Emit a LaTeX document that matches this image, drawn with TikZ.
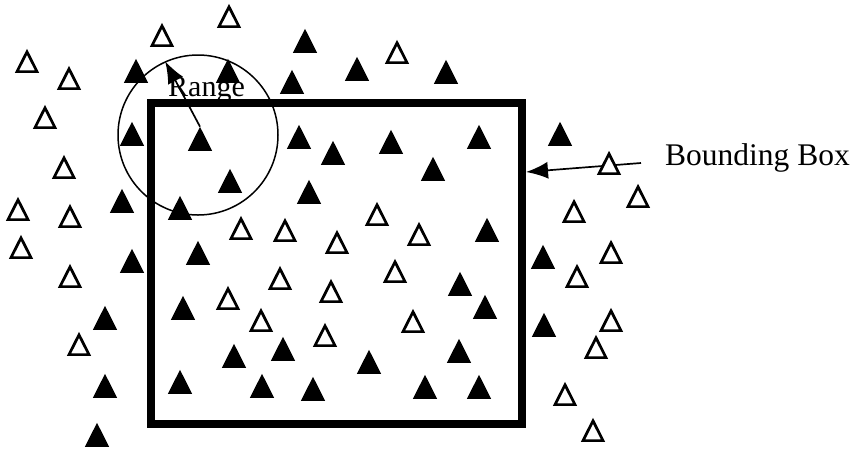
\documentclass[tikz,border=0pt]{standalone}
\usepackage{fontspec}
\setmainfont{Liberation Serif}
\usepackage{tikz}
\usetikzlibrary{arrows.meta,backgrounds,shapes.geometric}
\definecolor{SNInk}{HTML}{000000}

\begin{document}
\begin{tikzpicture}[
  x=1pt,
  y=-1pt,
  hollow/.style={
    regular polygon,
    regular polygon sides=3,
    yshift=-3pt,
    yscale=1.15,
    transform shape,
    draw=SNInk,
    fill=white,
    line width=2.7pt,
    minimum size=23pt,
    inner sep=0pt
  },
  solid/.style={
    hollow,
    fill=SNInk
  },
  frame/.style={
    draw=SNInk,
    line width=8pt,
    minimum width=371pt,
    minimum height=321pt,
    inner sep=0pt
  },
  reach/.style={
    circle,
    draw=SNInk,
    line width=1.5pt,
    minimum size=160pt,
    inner sep=0pt
  },
  tag/.style={
    inner sep=0pt,
    text=SNInk,
    font=\fontsize{30}{34}\selectfont
  },
  pointer/.style={line width=1.7pt, -{Latex[length=22pt,width=17pt]}},
]
\useasboundingbox (0,0) rectangle (856,448);

\node[frame] (bbox) at (336.5,263.5) {};
\node[reach] (range) at (198,135) {};
\node[tag,anchor=base west] (range-label) at (168,96) {Range};
\node[tag,anchor=base west,font=\fontsize{31.5}{36}\selectfont] (bbox-label) at (665,165) {Bounding Box};
\coordinate (bbox-tail) at (641,163);

% hollow triangles, outside the box
\node[hollow] (hollow-1) at (229,17) {};
\node[hollow] (hollow-2) at (162,36) {};
\node[hollow] (hollow-3) at (27,62) {};
\node[hollow] (hollow-4) at (69,79) {};
\node[hollow] (hollow-5) at (45,118) {};
\node[hollow] (hollow-6) at (64,168) {};
\node[hollow] (hollow-7) at (18,210) {};
\node[hollow] (hollow-8) at (70,217) {};
\node[hollow] (hollow-9) at (21,248) {};
\node[hollow] (hollow-10) at (70,277) {};
\node[hollow] (hollow-11) at (79,345) {};
\node[hollow] (hollow-12) at (397,53) {};
\node[hollow] (hollow-13) at (609,164) {};
\node[hollow] (hollow-14) at (638,197) {};
\node[hollow] (hollow-15) at (574,212) {};
\node[hollow] (hollow-16) at (611,253) {};
\node[hollow] (hollow-17) at (577,277) {};
\node[hollow] (hollow-18) at (611,321) {};
\node[hollow] (hollow-19) at (596,348) {};
\node[hollow] (hollow-20) at (565,395) {};
\node[hollow] (hollow-21) at (593,431) {};

% hollow triangles, inside the box
\node[hollow] (hollow-22) at (241,229) {};
\node[hollow] (hollow-23) at (285,231) {};
\node[hollow] (hollow-24) at (377,215) {};
\node[hollow] (hollow-25) at (337,243) {};
\node[hollow] (hollow-26) at (419,235) {};
\node[hollow] (hollow-27) at (280,279) {};
\node[hollow] (hollow-28) at (395,272) {};
\node[hollow] (hollow-29) at (331,292) {};
\node[hollow] (hollow-30) at (228,299) {};
\node[hollow] (hollow-31) at (261,321) {};
\node[hollow] (hollow-32) at (413,322) {};
\node[hollow] (hollow-33) at (325,336) {};

% solid triangles, outside the box
\node[solid] (solid-1) at (136,72) {};
\node[solid] (solid-2) at (228,72) {};
\node[solid] (solid-3) at (305,42) {};
\node[solid] (solid-4) at (357,70) {};
\node[solid] (solid-5) at (446,73) {};
\node[solid] (solid-6) at (292,83) {};
\node[solid] (solid-7) at (132,135) {};
\node[solid] (solid-8) at (122,202) {};
\node[solid] (solid-9) at (560,135) {};
\node[solid] (solid-10) at (132,262) {};
\node[solid] (solid-11) at (105,319) {};
\node[solid] (solid-12) at (105,387) {};
\node[solid] (solid-13) at (97,436) {};
\node[solid] (solid-14) at (543,258) {};
\node[solid] (solid-15) at (544,326) {};

% solid triangles, inside the box
\node[solid] (hub) at (200,140) {};
\node[solid] (solid-16) at (230,182) {};
\node[solid] (solid-17) at (180,209) {};
\node[solid] (solid-18) at (299,138) {};
\node[solid] (solid-19) at (333,154) {};
\node[solid] (solid-20) at (391,143) {};
\node[solid] (solid-21) at (479,138) {};
\node[solid] (solid-22) at (433,170) {};
\node[solid] (solid-23) at (309,193) {};
\node[solid] (solid-24) at (487,231) {};
\node[solid] (solid-25) at (198,254) {};
\node[solid] (solid-26) at (183,309) {};
\node[solid] (solid-27) at (460,285) {};
\node[solid] (solid-28) at (485,308) {};
\node[solid] (solid-29) at (283,350) {};
\node[solid] (solid-30) at (234,357) {};
\node[solid] (solid-31) at (180,383) {};
\node[solid] (solid-32) at (262,387) {};
\node[solid] (solid-33) at (313,390) {};
\node[solid] (solid-34) at (369,363) {};
\node[solid] (solid-35) at (459,352) {};
\node[solid] (solid-36) at (425,388) {};
\node[solid] (solid-37) at (479,388) {};

\begin{scope}[on background layer]
  \draw[pointer] (hub.north) -- (range.114);
  \draw[pointer] (bbox-tail) -- ([yshift=91.5pt]bbox.east);
\end{scope}
\end{tikzpicture}
\end{document}
